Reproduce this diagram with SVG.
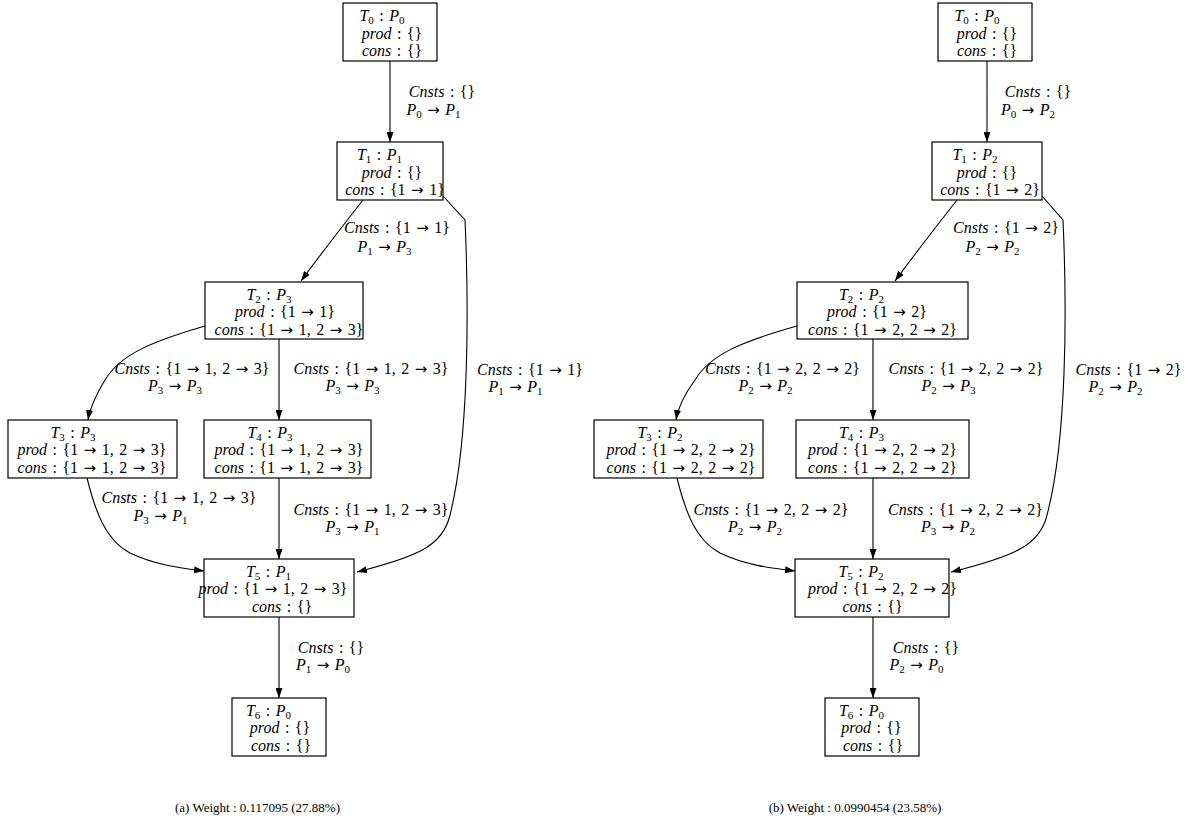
<svg xmlns="http://www.w3.org/2000/svg" width="1190" height="836" viewBox="0 0 1190 836">
<style>
text { font-family: "Liberation Serif", "Times New Roman", serif; font-size: 16px; word-spacing: 1.5px; fill: #000; text-anchor: middle; }
.i { font-style: italic; }
.b { font-size: 11px; }
.a { font-family: "DejaVu Sans", sans-serif; font-size: 15px; }
.cap { font-size: 13px; word-spacing: 0; }
.box { fill: #fff; stroke: #000; stroke-width: 1.2; }
.e { fill: none; stroke: #000; stroke-width: 1.1; marker-end: url(#ah); }
</style>
<defs>
<marker id="ah" markerUnits="userSpaceOnUse" viewBox="0 0 10 7" refX="10" refY="3.5" markerWidth="10" markerHeight="7" orient="auto">
<path d="M0,0 L10,3.5 L0,7 z" fill="#000"/>
</marker>
</defs>
<rect width="1190" height="836" fill="#fff"/>

<g id="connectors">
<path class="e" d="M390,61 L390,142"/>
<path class="e" d="M363,200 C345,223 320,255 301,281"/>
<path class="e" d="M443,196 L465,220 C469,310 469,440 450,515 C443,545 420,556 357,572"/>
<path class="e" d="M205,326 C150,342 120,355 105,380 C96,395 90,407 88,420"/>
<path class="e" d="M279,339 L279,420"/>
<path class="e" d="M87,478 C95,510 105,540 130,553 C155,565 180,568 204,571"/>
<path class="e" d="M279,478 L279,559"/>
<path class="e" d="M279,617 L279,698"/>

<path class="e" d="M987,61 L987,142"/>
<path class="e" d="M957,200 C939,223 914,255 895,281"/>
<path class="e" d="M1042,196 L1063,220 C1067,310 1067,440 1047,515 C1040,545 1015,556 951,572"/>
<path class="e" d="M797,326 C740,342 710,355 695,380 C684,395 678,407 676,420"/>
<path class="e" d="M873,339 L873,420"/>
<path class="e" d="M677,478 C685,510 695,540 720,553 C745,565 770,568 795,571"/>
<path class="e" d="M873,478 L873,559"/>
<path class="e" d="M873,617 L873,698"/>
</g>

<g id="edge-labels">
<text x="442" y="97"><tspan class="i">Cnsts</tspan> : {}</text>
<text x="433.5" y="115"><tspan class="i">P</tspan><tspan class="b" dy="3">0</tspan><tspan dy="-3"> </tspan><tspan class="a">→</tspan> <tspan class="i">P</tspan><tspan class="b" dy="3">1</tspan></text>
<text x="397" y="233"><tspan class="i">Cnsts</tspan> : {1 <tspan class="a">→</tspan> 1}</text>
<text x="384.5" y="252"><tspan class="i">P</tspan><tspan class="b" dy="3">1</tspan><tspan dy="-3"> </tspan><tspan class="a">→</tspan> <tspan class="i">P</tspan><tspan class="b" dy="3">3</tspan></text>
<text x="530" y="375"><tspan class="i">Cnsts</tspan> : {1 <tspan class="a">→</tspan> 1}</text>
<text x="515.5" y="392"><tspan class="i">P</tspan><tspan class="b" dy="3">1</tspan><tspan dy="-3"> </tspan><tspan class="a">→</tspan> <tspan class="i">P</tspan><tspan class="b" dy="3">1</tspan></text>
<text x="192" y="374"><tspan class="i">Cnsts</tspan> : {1 <tspan class="a">→</tspan> 1, 2 <tspan class="a">→</tspan> 3}</text>
<text x="175" y="391"><tspan class="i">P</tspan><tspan class="b" dy="3">3</tspan><tspan dy="-3"> </tspan><tspan class="a">→</tspan> <tspan class="i">P</tspan><tspan class="b" dy="3">3</tspan></text>
<text x="371" y="374"><tspan class="i">Cnsts</tspan> : {1 <tspan class="a">→</tspan> 1, 2 <tspan class="a">→</tspan> 3}</text>
<text x="352.5" y="391"><tspan class="i">P</tspan><tspan class="b" dy="3">3</tspan><tspan dy="-3"> </tspan><tspan class="a">→</tspan> <tspan class="i">P</tspan><tspan class="b" dy="3">3</tspan></text>
<text x="179" y="503"><tspan class="i">Cnsts</tspan> : {1 <tspan class="a">→</tspan> 1, 2 <tspan class="a">→</tspan> 3}</text>
<text x="160.5" y="521"><tspan class="i">P</tspan><tspan class="b" dy="3">3</tspan><tspan dy="-3"> </tspan><tspan class="a">→</tspan> <tspan class="i">P</tspan><tspan class="b" dy="3">1</tspan></text>
<text x="371" y="515"><tspan class="i">Cnsts</tspan> : {1 <tspan class="a">→</tspan> 1, 2 <tspan class="a">→</tspan> 3}</text>
<text x="352.5" y="532"><tspan class="i">P</tspan><tspan class="b" dy="3">3</tspan><tspan dy="-3"> </tspan><tspan class="a">→</tspan> <tspan class="i">P</tspan><tspan class="b" dy="3">1</tspan></text>
<text x="331" y="653"><tspan class="i">Cnsts</tspan> : {}</text>
<text x="323" y="670"><tspan class="i">P</tspan><tspan class="b" dy="3">1</tspan><tspan dy="-3"> </tspan><tspan class="a">→</tspan> <tspan class="i">P</tspan><tspan class="b" dy="3">0</tspan></text>

<text x="1038" y="97"><tspan class="i">Cnsts</tspan> : {}</text>
<text x="1028" y="115"><tspan class="i">P</tspan><tspan class="b" dy="3">0</tspan><tspan dy="-3"> </tspan><tspan class="a">→</tspan> <tspan class="i">P</tspan><tspan class="b" dy="3">2</tspan></text>
<text x="1006" y="233"><tspan class="i">Cnsts</tspan> : {1 <tspan class="a">→</tspan> 2}</text>
<text x="992.5" y="252"><tspan class="i">P</tspan><tspan class="b" dy="3">2</tspan><tspan dy="-3"> </tspan><tspan class="a">→</tspan> <tspan class="i">P</tspan><tspan class="b" dy="3">2</tspan></text>
<text x="1128.5" y="375"><tspan class="i">Cnsts</tspan> : {1 <tspan class="a">→</tspan> 2}</text>
<text x="1115.5" y="392"><tspan class="i">P</tspan><tspan class="b" dy="3">2</tspan><tspan dy="-3"> </tspan><tspan class="a">→</tspan> <tspan class="i">P</tspan><tspan class="b" dy="3">2</tspan></text>
<text x="782.5" y="374"><tspan class="i">Cnsts</tspan> : {1 <tspan class="a">→</tspan> 2, 2 <tspan class="a">→</tspan> 2}</text>
<text x="765.5" y="391"><tspan class="i">P</tspan><tspan class="b" dy="3">2</tspan><tspan dy="-3"> </tspan><tspan class="a">→</tspan> <tspan class="i">P</tspan><tspan class="b" dy="3">2</tspan></text>
<text x="966" y="374"><tspan class="i">Cnsts</tspan> : {1 <tspan class="a">→</tspan> 2, 2 <tspan class="a">→</tspan> 2}</text>
<text x="948.5" y="391"><tspan class="i">P</tspan><tspan class="b" dy="3">2</tspan><tspan dy="-3"> </tspan><tspan class="a">→</tspan> <tspan class="i">P</tspan><tspan class="b" dy="3">3</tspan></text>
<text x="771" y="515"><tspan class="i">Cnsts</tspan> : {1 <tspan class="a">→</tspan> 2, 2 <tspan class="a">→</tspan> 2}</text>
<text x="755" y="532"><tspan class="i">P</tspan><tspan class="b" dy="3">2</tspan><tspan dy="-3"> </tspan><tspan class="a">→</tspan> <tspan class="i">P</tspan><tspan class="b" dy="3">2</tspan></text>
<text x="965.5" y="515"><tspan class="i">Cnsts</tspan> : {1 <tspan class="a">→</tspan> 2, 2 <tspan class="a">→</tspan> 2}</text>
<text x="948" y="532"><tspan class="i">P</tspan><tspan class="b" dy="3">3</tspan><tspan dy="-3"> </tspan><tspan class="a">→</tspan> <tspan class="i">P</tspan><tspan class="b" dy="3">2</tspan></text>
<text x="926" y="653"><tspan class="i">Cnsts</tspan> : {}</text>
<text x="916.5" y="670"><tspan class="i">P</tspan><tspan class="b" dy="3">2</tspan><tspan dy="-3"> </tspan><tspan class="a">→</tspan> <tspan class="i">P</tspan><tspan class="b" dy="3">0</tspan></text>
</g>

<g id="a-T0">
<rect class="box" x="343" y="3" width="94" height="58"/>
<text x="382" y="21"><tspan class="i">T</tspan><tspan class="b" dy="3">0</tspan><tspan dy="-3"> : </tspan><tspan class="i">P</tspan><tspan class="b" dy="3">0</tspan></text>
<text x="392" y="38.5"><tspan class="i">prod</tspan> : {}</text>
<text x="392" y="56"><tspan class="i">cons</tspan> : {}</text>
</g>
<g id="a-T1">
<rect class="box" x="337" y="142" width="106" height="58"/>
<text x="379.5" y="160"><tspan class="i">T</tspan><tspan class="b" dy="3">1</tspan><tspan dy="-3"> : </tspan><tspan class="i">P</tspan><tspan class="b" dy="3">1</tspan></text>
<text x="392" y="177.5"><tspan class="i">prod</tspan> : {}</text>
<text x="395" y="195"><tspan class="i">cons</tspan> : {1 <tspan class="a">→</tspan> 1}</text>
</g>
<g id="a-T2">
<rect class="box" x="205" y="282" width="158" height="57"/>
<text x="269" y="299.5"><tspan class="i">T</tspan><tspan class="b" dy="3">2</tspan><tspan dy="-3"> : </tspan><tspan class="i">P</tspan><tspan class="b" dy="3">3</tspan></text>
<text x="285" y="317"><tspan class="i">prod</tspan> : {1 <tspan class="a">→</tspan> 1}</text>
<text x="289" y="334.5"><tspan class="i">cons</tspan> : {1 <tspan class="a">→</tspan> 1, 2 <tspan class="a">→</tspan> 3}</text>
</g>
<g id="a-T3">
<rect class="box" x="8" y="420" width="169" height="58"/>
<text x="73" y="437.5"><tspan class="i">T</tspan><tspan class="b" dy="3">3</tspan><tspan dy="-3"> : </tspan><tspan class="i">P</tspan><tspan class="b" dy="3">3</tspan></text>
<text x="92" y="455"><tspan class="i">prod</tspan> : {1 <tspan class="a">→</tspan> 1, 2 <tspan class="a">→</tspan> 3}</text>
<text x="92" y="472.5"><tspan class="i">cons</tspan> : {1 <tspan class="a">→</tspan> 1, 2 <tspan class="a">→</tspan> 3}</text>
</g>
<g id="a-T4">
<rect class="box" x="204" y="420" width="167" height="58"/>
<text x="270" y="437.5"><tspan class="i">T</tspan><tspan class="b" dy="3">4</tspan><tspan dy="-3"> : </tspan><tspan class="i">P</tspan><tspan class="b" dy="3">3</tspan></text>
<text x="289" y="455"><tspan class="i">prod</tspan> : {1 <tspan class="a">→</tspan> 1, 2 <tspan class="a">→</tspan> 3}</text>
<text x="289" y="472.5"><tspan class="i">cons</tspan> : {1 <tspan class="a">→</tspan> 1, 2 <tspan class="a">→</tspan> 3}</text>
</g>
<g id="a-T5">
<rect class="box" x="204" y="559" width="150" height="58"/>
<text x="268.5" y="576.5"><tspan class="i">T</tspan><tspan class="b" dy="3">5</tspan><tspan dy="-3"> : </tspan><tspan class="i">P</tspan><tspan class="b" dy="3">1</tspan></text>
<text x="273" y="594"><tspan class="i">prod</tspan> : {1 <tspan class="a">→</tspan> 1, 2 <tspan class="a">→</tspan> 3}</text>
<text x="282" y="611.5"><tspan class="i">cons</tspan> : {}</text>
</g>
<g id="a-T6">
<rect class="box" x="232" y="698" width="94" height="58"/>
<text x="268.5" y="715.5"><tspan class="i">T</tspan><tspan class="b" dy="3">6</tspan><tspan dy="-3"> : </tspan><tspan class="i">P</tspan><tspan class="b" dy="3">0</tspan></text>
<text x="280" y="733"><tspan class="i">prod</tspan> : {}</text>
<text x="281" y="750.5"><tspan class="i">cons</tspan> : {}</text>
</g>

<g id="b-T0">
<rect class="box" x="938" y="3" width="94" height="58"/>
<text x="977" y="21"><tspan class="i">T</tspan><tspan class="b" dy="3">0</tspan><tspan dy="-3"> : </tspan><tspan class="i">P</tspan><tspan class="b" dy="3">0</tspan></text>
<text x="987" y="38.5"><tspan class="i">prod</tspan> : {}</text>
<text x="987" y="56"><tspan class="i">cons</tspan> : {}</text>
</g>
<g id="b-T1">
<rect class="box" x="932" y="142" width="110" height="58"/>
<text x="975" y="160"><tspan class="i">T</tspan><tspan class="b" dy="3">1</tspan><tspan dy="-3"> : </tspan><tspan class="i">P</tspan><tspan class="b" dy="3">2</tspan></text>
<text x="987" y="177.5"><tspan class="i">prod</tspan> : {}</text>
<text x="990" y="195"><tspan class="i">cons</tspan> : {1 <tspan class="a">→</tspan> 2}</text>
</g>
<g id="b-T2">
<rect class="box" x="797" y="282" width="171" height="57"/>
<text x="861.5" y="299.5"><tspan class="i">T</tspan><tspan class="b" dy="3">2</tspan><tspan dy="-3"> : </tspan><tspan class="i">P</tspan><tspan class="b" dy="3">2</tspan></text>
<text x="877" y="317"><tspan class="i">prod</tspan> : {1 <tspan class="a">→</tspan> 2}</text>
<text x="882.5" y="334.5"><tspan class="i">cons</tspan> : {1 <tspan class="a">→</tspan> 2, 2 <tspan class="a">→</tspan> 2}</text>
</g>
<g id="b-T3">
<rect class="box" x="594" y="420" width="169" height="58"/>
<text x="660" y="437.5"><tspan class="i">T</tspan><tspan class="b" dy="3">3</tspan><tspan dy="-3"> : </tspan><tspan class="i">P</tspan><tspan class="b" dy="3">2</tspan></text>
<text x="681" y="455"><tspan class="i">prod</tspan> : {1 <tspan class="a">→</tspan> 2, 2 <tspan class="a">→</tspan> 2}</text>
<text x="681" y="472.5"><tspan class="i">cons</tspan> : {1 <tspan class="a">→</tspan> 2, 2 <tspan class="a">→</tspan> 2}</text>
</g>
<g id="b-T4">
<rect class="box" x="796" y="420" width="173" height="58"/>
<text x="861.5" y="437.5"><tspan class="i">T</tspan><tspan class="b" dy="3">4</tspan><tspan dy="-3"> : </tspan><tspan class="i">P</tspan><tspan class="b" dy="3">3</tspan></text>
<text x="882.5" y="455"><tspan class="i">prod</tspan> : {1 <tspan class="a">→</tspan> 2, 2 <tspan class="a">→</tspan> 2}</text>
<text x="882.5" y="472.5"><tspan class="i">cons</tspan> : {1 <tspan class="a">→</tspan> 2, 2 <tspan class="a">→</tspan> 2}</text>
</g>
<g id="b-T5">
<rect class="box" x="795" y="559" width="154" height="58"/>
<text x="861" y="576.5"><tspan class="i">T</tspan><tspan class="b" dy="3">5</tspan><tspan dy="-3"> : </tspan><tspan class="i">P</tspan><tspan class="b" dy="3">2</tspan></text>
<text x="882.5" y="594"><tspan class="i">prod</tspan> : {1 <tspan class="a">→</tspan> 2, 2 <tspan class="a">→</tspan> 2}</text>
<text x="872.5" y="611.5"><tspan class="i">cons</tspan> : {}</text>
</g>
<g id="b-T6">
<rect class="box" x="825" y="698" width="94" height="58"/>
<text x="861.5" y="715.5"><tspan class="i">T</tspan><tspan class="b" dy="3">6</tspan><tspan dy="-3"> : </tspan><tspan class="i">P</tspan><tspan class="b" dy="3">0</tspan></text>
<text x="871.5" y="733"><tspan class="i">prod</tspan> : {}</text>
<text x="873" y="750.5"><tspan class="i">cons</tspan> : {}</text>
</g>

<g id="captions">
<text class="cap" x="257.5" y="812">(a) Weight : 0.117095 (27.88%)</text>
<text class="cap" x="855" y="812">(b) Weight : 0.0990454 (23.58%)</text>
</g>
</svg>
